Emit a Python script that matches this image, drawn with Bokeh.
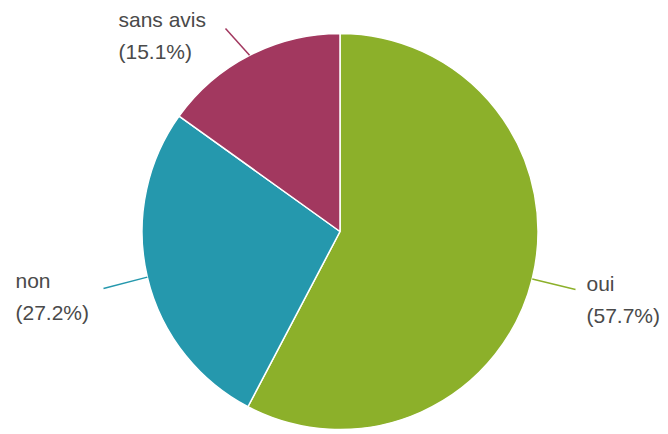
import math
from bokeh.plotting import figure
from bokeh.models import Range1d
from bokeh.core.properties import value
from bokeh.embed import file_html
from bokeh.resources import INLINE

# data
categories = ["oui", "non", "sans avis"]
percentages = [57.7, 27.2, 15.1]
colors = ["#8cb02a", "#2598ad", "#a2385f"]

W, H = 668, 434
p = figure(width=W, height=H, output_backend="svg", toolbar_location=None,
           x_range=Range1d(0, W), y_range=Range1d(-H, 0), min_border=0)
p.axis.visible = False
p.grid.visible = False
p.outline_line_color = None
p.background_fill_color = "white"
p.border_fill_color = "white"

cx, cy, r = 339.5, -231.0, 198
# label anchors (px, y downward) and connector ends
label_pos = {"oui": (586, 283), "non": (15, 280), "sans avis": (118, 19)}
line_end = {"oui": (575, 289), "non": (103, 288), "sans avis": (225, 28)}

total = sum(percentages)
cum = 0.0
for cat, pct, col in zip(categories, percentages, colors):
    a0 = math.pi / 2 - cum / total * 2 * math.pi
    a1 = math.pi / 2 - (cum + pct) / total * 2 * math.pi
    p.wedge(x=[cx], y=[cy], radius=r, radius_units="screen",
            start_angle=a0, end_angle=a1, direction="clock",
            fill_color=col, line_color="white", line_width=1.5)
    mid = (a0 + a1) / 2
    ex, ey = cx + r * math.cos(mid), cy + r * math.sin(mid)
    lx, ly = line_end[cat]
    p.line([ex, lx], [ey, -ly], line_color=col, line_width=1.5)
    tx, ty = label_pos[cat]
    p.text(x=[tx], y=[-ty], text=[cat], text_font=value("Liberation Sans"),
           text_font_size="21px", text_color="#4a4a4a", text_baseline="alphabetic")
    p.text(x=[tx], y=[-(ty + 32)], text=["(%.1f%%)" % pct], text_font=value("Liberation Sans"),
           text_font_size="21px", text_color="#4a4a4a", text_baseline="alphabetic")
    cum += pct

open("out.html", "w").write(file_html(p, INLINE))
